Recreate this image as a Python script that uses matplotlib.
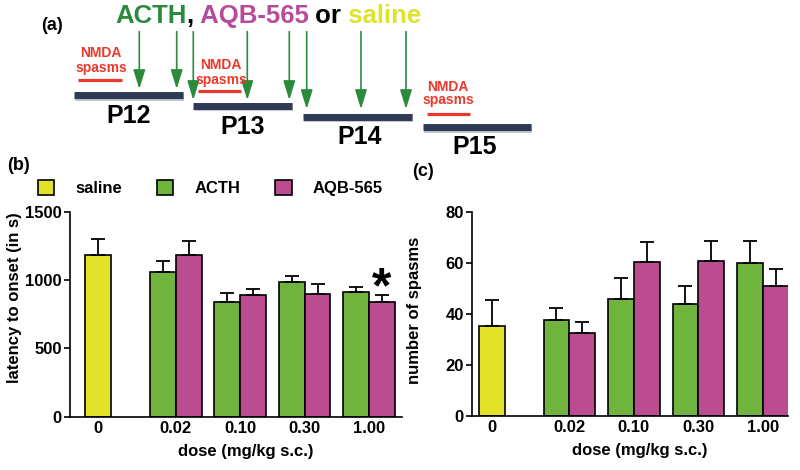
import numpy as np
import matplotlib
matplotlib.use("Agg")
import matplotlib.pyplot as plt
from matplotlib.patches import Patch

plt.rcParams["font.family"] = ["Liberation Sans", "DejaVu Sans"]
plt.rcParams["font.weight"] = "bold"

# data
doses = ["0", "0.02", "0.10", "0.30", "1.00"]
groups = ["saline", "ACTH", "AQB-565"]

latency_saline = 1185
latency_saline_err = 120
latency_acth = [1060, 840, 989, 916]
latency_acth_err = [80, 64, 44, 32]
latency_aqb = [1185, 889, 901, 840]
latency_aqb_err = [105, 49, 69, 54]

spasms_saline = 35.2
spasms_saline_err = 10.2
spasms_acth = [37.4, 45.8, 44.0, 60.0]
spasms_acth_err = [4.8, 8.3, 6.8, 8.6]
spasms_aqb = [32.4, 60.3, 60.5, 50.8]
spasms_aqb_err = [4.5, 7.7, 8.1, 6.6]

days = ["P12", "P13", "P14", "P15"]

# colours
YELLOW = "#e3e229"
GREEN = "#70b33d"
MAGENTA = "#bb4c8f"
DARK_GREEN = "#2b8a3c"
TITLE_MAGENTA = "#b84a9c"
TITLE_YELLOW = "#dfe32b"
RED = "#e8392b"
NAVY = "#2f3a56"

# schematic layout (pixel coordinates of an 800x470 canvas)
day_bar_x = [(74, 183), (193, 292), (303, 412), (423, 531)]
day_bar_y = [95, 105.5, 116.5, 127]
day_label_pos = [(128.5, 116), (242.5, 127.5), (360, 137.5), (475, 147)]
arrow_x = [139.3, 176.7, 193.3, 247.3, 289.3, 306.7, 361, 406]
arrow_tip = [89, 89, 100, 100, 100, 109, 109, 109]
nmda_line = [(78, 122, 80), (198, 241, 90.7), (427, 470, 114)]
nmda_text = [(101, 53.3, 67.7), (221, 65, 80), (448.3, 87.3, 100)]


def bar_panel(ax, saline, saline_err, acth, acth_err, aqb, aqb_err, ymax, yticks):
    width = 0.4
    xg = np.arange(len(acth)) + 1.2
    ekw = dict(elinewidth=1.3, capthick=1.3, ecolor="black")
    ax.bar([0], [saline], width, yerr=[[0], [saline_err]], color=YELLOW,
           edgecolor="black", linewidth=1.2, capsize=5, error_kw=ekw)
    ax.bar(xg - width / 2, acth, width, yerr=[np.zeros(len(acth)), acth_err],
           color=GREEN, edgecolor="black", linewidth=1.2, capsize=5, error_kw=ekw)
    ax.bar(xg + width / 2, aqb, width, yerr=[np.zeros(len(aqb)), aqb_err],
           color=MAGENTA, edgecolor="black", linewidth=1.2, capsize=5, error_kw=ekw)
    ax.set_ylim(0, ymax)
    ax.set_yticks(yticks)
    ax.set_xticks(np.concatenate([[0], xg]))
    ax.set_xticklabels(doses)
    ax.tick_params(axis="x", length=0, pad=3, labelsize=12)
    ax.tick_params(axis="y", length=4, width=1.2, pad=2, labelsize=12)
    for s in ["top", "right"]:
        ax.spines[s].set_visible(False)
    for s in ["left", "bottom"]:
        ax.spines[s].set_linewidth(1.2)
    ax.set_xlabel("dose (mg/kg s.c.)", fontsize=12, fontweight="bold")
    ax.xaxis.set_label_coords(0.53, -0.135)
    return xg


fig = plt.figure(figsize=(8, 4.7), dpi=100)

# panel (a): schematic
ax0 = fig.add_axes([0, 0, 1, 1])
ax0.set_xlim(0, 800)
ax0.set_ylim(470, 0)
ax0.axis("off")

ax0.text(51.5, 25.5, "(a)", fontsize=13, ha="center", va="center")

pieces = [("ACTH", DARK_GREEN), (",", "black"), (" AQB-565", TITLE_MAGENTA),
          (" or", "black"), (" saline", TITLE_YELLOW)]
prev = None
for txt, col in pieces:
    if prev is None:
        prev = ax0.text(115, 28, txt, color=col, fontsize=18.5,
                        ha="left", va="bottom")
    else:
        prev = ax0.annotate(txt, xy=(1, 0), xycoords=prev, color=col,
                            fontsize=18.5, ha="left", va="bottom")

for (x0, x1), y in zip(day_bar_x, day_bar_y):
    ax0.plot([x0 + 1, x1 + 1], [y + 1.5, y + 1.5], color="#b8bcc6", lw=5.5,
             solid_capstyle="butt")
    ax0.plot([x0, x1], [y, y], color=NAVY, lw=5, solid_capstyle="butt")
for d, (x, y) in zip(days, day_label_pos):
    ax0.text(x, y, d, fontsize=18, ha="center", va="center")

for x, tip in zip(arrow_x, arrow_tip):
    ax0.annotate("", xy=(x, tip), xytext=(x, 31.7),
                 arrowprops=dict(arrowstyle="-|>,head_length=0.9,head_width=0.28",
                                 color=DARK_GREEN, lw=1.2, mutation_scale=13,
                                 shrinkA=0, shrinkB=0))

for (x0, x1, y), (xt, y1, y2) in zip(nmda_line, nmda_text):
    ax0.plot([x0, x1], [y, y], color=RED, lw=2.3, solid_capstyle="butt")
    ax0.text(xt, y1, "NMDA", color=RED, fontsize=10, ha="center", va="center")
    ax0.text(xt, y2, "spasms", color=RED, fontsize=10, ha="center", va="center")

# panel (b): latency
axb = fig.add_axes([0.0875, 0.1134, 0.415, 0.4355])
xg = bar_panel(axb, latency_saline, latency_saline_err, latency_acth,
               latency_acth_err, latency_aqb, latency_aqb_err, 1500,
               [0, 500, 1000, 1500])
axb.set_xlim(-0.44, 4.71)
axb.set_ylabel("latency to onset (in s)", fontsize=12, fontweight="bold")
axb.yaxis.set_label_coords(-0.145, 0.58)
axb.text(xg[-1] + 0.2, latency_aqb[-1] + latency_aqb_err[-1] + 40, "*",
         fontsize=36, ha="center", va="center")

# panel (c): number of spasms
axc = fig.add_axes([0.5904, 0.1155, 0.3946, 0.434])
bar_panel(axc, spasms_saline, spasms_saline_err, spasms_acth, spasms_acth_err,
          spasms_aqb, spasms_aqb_err, 80, [0, 20, 40, 60, 80])
axc.set_xlim(-0.305, 4.59)
axc.set_ylabel("number of spasms", fontsize=12, fontweight="bold")
axc.yaxis.set_label_coords(-0.159, 0.515)

fig.text(18 / 800, 1 - 165 / 470, "(b)", fontsize=13, ha="center", va="center")
fig.text(423 / 800, 1 - 172 / 470, "(c)", fontsize=13, ha="center", va="center")

handles = [Patch(facecolor=c, edgecolor="black", linewidth=1.2)
           for c in [YELLOW, GREEN, MAGENTA]]
fig.legend(handles, groups, loc="center left", ncol=3, frameon=False,
           bbox_to_anchor=(37.7 / 800, 1 - 187.7 / 470), borderaxespad=0,
           borderpad=0, handlelength=1.0, handleheight=1.0,
           handletextpad=1.24, columnspacing=2.1,
           prop=dict(size=12, weight="bold"))

fig.savefig("out.png", dpi=100)
